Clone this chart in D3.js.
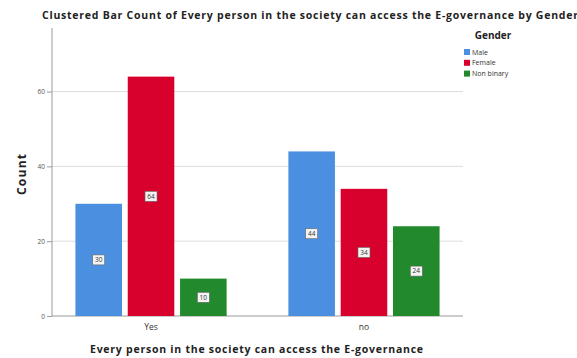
<!DOCTYPE html>
<html>
<head>
<meta charset="utf-8">
<script src="https://cdn.jsdelivr.net/npm/d3@7"></script>
<style>
  html, body { margin: 0; padding: 0; background: #fff; }
  svg { display: block; font-family: "Open Sans", "Noto Sans", sans-serif; }
</style>
</head>
<body>
<svg id="chart" width="577" height="358"></svg>
<script>
// Responses and gender groups
const categories = ["Yes", "no"];
const genders = ["Male", "Female", "Non binary"];
const maleCounts = [30, 44];
const femaleCounts = [64, 34];
const nonBinaryCounts = [10, 24];
const yTicks = [0, 20, 40, 60];
const genderColors = ["#4a8fe0", "#d8002c", "#228a2c"];

const seriesValues = [maleCounts, femaleCounts, nonBinaryCounts];
const rows = categories.map((c, i) => ({
  category: c,
  values: genders.map((g, j) => ({ gender: g, value: seriesValues[j][i], idx: j }))
}));

const svg = d3.select("#chart");
const plot = { left: 52, right: 463, top: 28, bottom: 316 };

const x0 = d3.scaleBand().domain(categories)
  .range([plot.left, plot.right]).paddingInner(0.29).paddingOuter(0.11);
const x1 = d3.scaleBand().domain(genders)
  .range([0, x0.bandwidth()]).paddingInner(0.11).paddingOuter(0);
const y = d3.scaleLinear().domain([0, 77]).range([plot.bottom, plot.top]);
const color = d3.scaleOrdinal().domain(genders).range(genderColors);

// Title
svg.append("text")
  .attr("x", 42).attr("y", 19)
  .attr("font-size", 10.5).attr("font-weight", "bold").attr("fill", "#222")
  .attr("textLength", 536).attr("lengthAdjust", "spacing")
  .text("Clustered Bar Count of Every person in the society can access the E-governance by Gender");

// Gridlines
svg.append("g").selectAll("line").data(yTicks.filter(t => t > 0)).join("line")
  .attr("x1", plot.left).attr("x2", plot.right)
  .attr("y1", d => y(d)).attr("y2", d => y(d))
  .attr("stroke", "#dcdcdc").attr("stroke-width", 1);

// Y axis
const yAxis = svg.append("g").attr("transform", `translate(${plot.left},0)`)
  .call(d3.axisLeft(y).tickValues(yTicks).tickSize(5).tickPadding(2));
yAxis.select(".domain").attr("stroke", "#9a9a9a").attr("d", `M0,${plot.top}V${plot.bottom}`);
yAxis.selectAll(".tick line").attr("stroke", "#9a9a9a");
yAxis.selectAll(".tick text").attr("font-size", 6.5).attr("fill", "#555")
  .attr("font-family", "'Open Sans', sans-serif");

// X axis baseline
svg.append("line")
  .attr("x1", plot.left).attr("x2", plot.right)
  .attr("y1", plot.bottom).attr("y2", plot.bottom)
  .attr("stroke", "#9a9a9a");

// Bars
const groups = svg.append("g").selectAll("g").data(rows).join("g")
  .attr("transform", d => `translate(${x0(d.category)},0)`);

groups.selectAll("rect").data(d => d.values).join("rect")
  .attr("x", d => x1(d.gender))
  .attr("y", d => y(d.value))
  .attr("width", x1.bandwidth())
  .attr("height", d => y(0) - y(d.value))
  .attr("fill", d => color(d.gender));

// Value labels in small boxes
const lab = groups.selectAll("g.lab").data(d => d.values).join("g")
  .attr("class", "lab")
  .attr("transform", d => `translate(${x1(d.gender) + x1.bandwidth() / 2},${(y(d.value) + y(0)) / 2})`);
lab.append("rect")
  .attr("x", -6).attr("y", -5).attr("width", 12).attr("height", 10)
  .attr("fill", "#f4f4f4").attr("stroke", "#666").attr("stroke-width", 0.6);
lab.append("text")
  .attr("text-anchor", "middle").attr("dy", "0.35em")
  .attr("font-size", 6.5).attr("fill", "#333")
  .text(d => d.value);

// X tick labels
svg.append("g").selectAll("text").data(categories).join("text")
  .attr("x", d => x0(d) + x0.bandwidth() / 2)
  .attr("y", 330)
  .attr("text-anchor", "middle").attr("font-size", 8.5).attr("fill", "#333")
  .text(d => d);

// Axis titles
svg.append("text")
  .attr("x", 90).attr("y", 353)
  .attr("font-size", 10.5).attr("font-weight", "bold").attr("fill", "#222")
  .attr("textLength", 333).attr("lengthAdjust", "spacing")
  .text("Every person in the society can access the E-governance");

svg.append("text")
  .attr("transform", "translate(26,195) rotate(-90)")
  .attr("font-size", 12).attr("font-weight", "bold").attr("fill", "#222")
  .attr("textLength", 41).attr("lengthAdjust", "spacing")
  .text("Count");

// Legend
const legend = svg.append("g").attr("transform", "translate(464,0)");
legend.append("text")
  .attr("x", 29).attr("y", 39)
  .attr("text-anchor", "middle").attr("font-size", 10).attr("font-weight", "bold").attr("fill", "#222")
  .text("Gender");
const items = legend.selectAll("g.item").data(genders).join("g")
  .attr("class", "item")
  .attr("transform", (d, i) => `translate(0,${49 + i * 10.8})`);
items.append("rect").attr("width", 6).attr("height", 6).attr("fill", d => color(d));
items.append("text").attr("x", 8).attr("y", 5.5)
  .attr("font-size", 7).attr("fill", "#333").text(d => d);
</script>
</body>
</html>
